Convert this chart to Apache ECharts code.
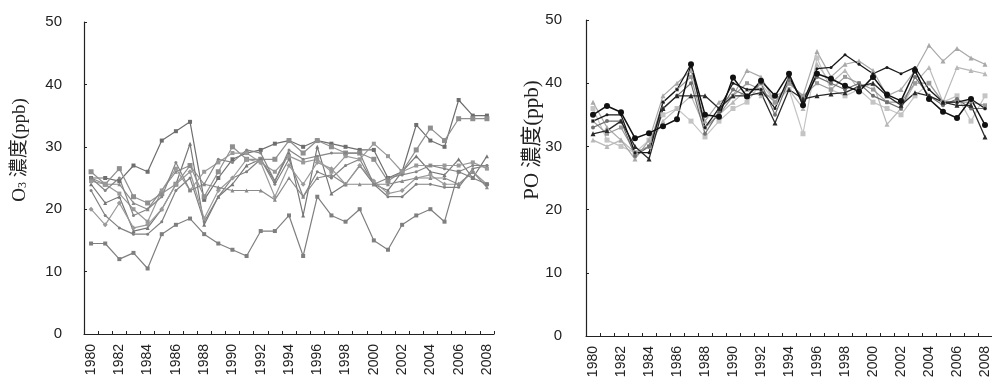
<!DOCTYPE html>
<html>
<head>
	<meta charset="utf-8" />
	<title>O3 / PO</title>
	<script src="https://cdn.jsdelivr.net/npm/echarts@6/dist/echarts.min.js"></script>
	<style>
		body { margin: 0; background: #fff; }
		#main { width: 992px; height: 386px; }
	</style>
</head>
<body>
	<div id="main"></div>
	<script type="text/javascript">
		// 年份
		var years = [];
		for (var y = 1980; y <= 2008; y++) years.push(String(y));

		// 左图 O3 濃度
		var o3A = [25, 25, 24.5, 27, 26, 31, 32.5, 34, 21.5, 25, 28, 29, 29.5, 30.5, 31, 30, 31, 30.5, 30, 29.5, 29.5, 25, 26, 33.5, 31, 30, 37.5, 35, 35];
		var o3B = [24, 21, 22, 16.5, 17, 20, 24, 30.5, 17.5, 22, 24, 27, 28, 24.5, 29, 19, 30, 22.5, 24, 27, 24, 23, 26, 28.5, 26, 25.5, 28, 25, 28.5];
		var o3C = [26, 24, 26.5, 22, 21, 22.5, 24, 27, 22, 26, 30, 28, 28, 28, 31, 29, 31, 30, 29, 29, 28, 24.5, 26, 29.5, 33, 31, 34.5, 34.5, 34.5];
		var o3D = [23, 19, 17, 16, 16, 18, 23, 25, 18, 22, 25, 26, 28, 24, 28, 22, 26, 25, 27, 28, 24, 22, 22, 24, 24, 23.5, 23.5, 26.5, 27];
		var o3E = [20, 17.5, 21, 17, 17.5, 20, 24, 26, 18.5, 23, 25, 28, 27.5, 22, 27, 24, 27.5, 26.5, 24, 27, 24.5, 22.5, 23, 25, 25.5, 24, 24, 26, 24];
		var o3F = [25, 24, 24, 21, 20, 23, 26, 27, 24, 23.5, 23, 23, 23, 21.5, 25, 22, 25, 25.5, 24, 24, 24, 24, 24.5, 25, 25, 25, 24, 26, 23.5];
		var o3G = [24.5, 24, 22.5, 20, 18, 23, 26.5, 23, 26, 27.5, 29, 29, 27.5, 26, 28.5, 27.5, 28, 26, 28.5, 28, 30.5, 28.5, 26, 27, 27, 27, 27, 27.5, 26.5];
		var o3H = [25, 23, 25, 19, 20, 22, 27.5, 23, 24, 28, 27.5, 29.5, 29, 24.5, 29.5, 28, 28.5, 29, 29, 29, 24, 25, 25.5, 26, 27, 26.5, 26, 27, 27];
		var o3Low = [14.5, 14.5, 12, 13, 10.5, 16, 17.5, 18.5, 16, 14.5, 13.5, 12.5, 16.5, 16.5, 19, 12.5, 22, 19, 18, 20, 15, 13.5, 17.5, 19, 20, 18, 26, 25, 24];

		// 右图 PO 濃度
		var poA = [35, 36.4, 35.4, 31.3, 32.1, 33.2, 34.3, 43, 35, 34.7, 40.9, 37.9, 40.4, 38, 41.5, 36.5, 41.5, 40.7, 39.6, 38.7, 41, 38.2, 37.2, 42, 37.5, 35.5, 34.5, 37.5, 33.4];
		var poB = [34, 35, 35, 29, 29, 37, 39, 43, 33, 36, 40, 39, 39, 36, 41, 37, 42.3, 42.5, 44.5, 43, 41.5, 42.5, 41.5, 42.5, 39, 37, 37, 37.5, 36];
		var poC = [32, 32.5, 34, 30, 28, 36, 38, 38, 38, 36, 38, 38, 38.5, 33.7, 39, 37.5, 38, 38.3, 38.5, 39.5, 40, 38, 36.5, 38.5, 38, 37, 36.5, 36.5, 31.5];
		var poD = [33, 34, 34, 28.5, 30, 36, 38, 40, 32, 35.5, 39, 38, 40, 35, 40.5, 37.5, 41, 40, 39, 40, 38, 37, 36, 41, 38, 36.5, 37.5, 36, 36];
		var poE = [37, 33, 31, 28, 31, 38, 40, 42, 34, 37, 38, 42, 41, 37, 40, 38, 45, 41, 43, 43.5, 42, 38, 39, 42, 46, 43.5, 45.5, 44, 43];
		var poF = [31, 30, 31, 29, 30, 34, 36, 38, 33, 35, 37, 39, 38, 38, 39, 36, 43, 40, 42, 39, 40, 33.5, 36, 40, 42.5, 37, 42.5, 42, 41.5];
		var poG = [36, 31, 30, 29, 31, 35, 36, 34, 31.5, 34, 36, 37, 40, 37, 39, 32, 44, 39, 38, 39, 37, 36, 35, 38, 40, 37, 38, 34, 38];
		var poH = [34, 32, 33, 29, 30, 37, 39, 41, 33, 35, 38, 40, 39, 37, 40, 38, 40, 39, 41, 40, 39, 37, 37, 40, 40, 37, 37, 37, 36.5];

		var yTicks = [0, 10, 20, 30, 40, 50];

		var labelFont = '"Liberation Sans", Arial, sans-serif';
		var nameFont = '"Liberation Serif", "Noto Sans CJK TC", serif';

		function xAxisOf(idx) {
			return {
				type: 'category',
				gridIndex: idx,
				data: years,
				boundaryGap: true,
				axisLine: { lineStyle: { color: '#222', width: 1.2 } },
				axisTick: { show: true, inside: true, length: 3, interval: 0, lineStyle: { color: '#222' } },
				axisLabel: {
					interval: 1, rotate: 90, margin: 10,
					color: '#222', fontSize: 14, fontFamily: labelFont
				},
				splitLine: { show: false }
			};
		}

		function yAxisOf(idx, margin) {
			return {
				type: 'value',
				gridIndex: idx,
				min: yTicks[0], max: yTicks[yTicks.length - 1], interval: 10,
				axisLine: { show: true, lineStyle: { color: '#222', width: 1.2 } },
				axisTick: { show: true, inside: true, length: 3, lineStyle: { color: '#222' } },
				axisLabel: { margin: margin, color: '#222', fontSize: 15, fontFamily: labelFont },
				splitLine: { show: false }
			};
		}

		function line(data, idx, color, symbol, size, width) {
			return {
				type: 'line',
				xAxisIndex: idx, yAxisIndex: idx,
				data: data,
				symbol: symbol,
				symbolSize: size,
				showAllSymbol: true,
				lineStyle: { color: color, width: width },
				itemStyle: { color: color, borderWidth: 0 },
				emphasis: { disabled: true },
				silent: true,
				animation: false
			};
		}

		var myChart = echarts.init(document.getElementById('main'));

		option = {
			backgroundColor: '#fff',
			animation: false,
			grid: [
				{ left: 84, top: 22, width: 410, height: 312 },
				{ left: 586, top: 20, width: 406, height: 316 }
			],
			xAxis: [xAxisOf(0), xAxisOf(1)],
			yAxis: [yAxisOf(0, 22), yAxisOf(1, 24)],
			graphic: [
				{
					type: 'text', x: 20, y: 150, rotation: Math.PI / 2,
					style: {
						text: 'O{s|3} 濃度(ppb)',
						align: 'center', verticalAlign: 'middle',
						fill: '#222', font: '19px ' + nameFont,
						rich: { s: { fontSize: 12, fontFamily: nameFont, fill: '#222', padding: [6, 0, 0, 0] } }
					}
				},
				{
					type: 'text', x: 532, y: 140, rotation: Math.PI / 2,
					style: {
						text: 'PO 濃度(ppb)',
						align: 'center', verticalAlign: 'middle',
						fill: '#222', font: '21px ' + nameFont
					}
				}
			],
			series: [
				line(o3A, 0, '#6e6e6e', 'rect', 4, 1.2),
				line(o3B, 0, '#777777', 'triangle', 4, 1.2),
				line(o3C, 0, '#8f8f8f', 'rect', 5, 1.2),
				line(o3D, 0, '#808080', 'circle', 3, 1.2),
				line(o3E, 0, '#9a9a9a', 'diamond', 5, 1.2),
				line(o3F, 0, '#8a8a8a', 'triangle', 4, 1.2),
				line(o3G, 0, '#999999', 'rect', 4, 1.2),
				line(o3H, 0, '#858585', 'circle', 3, 1.2),
				line(o3Low, 0, '#7f7f7f', 'rect', 4, 1.2),

				line(poG, 1, '#c4c4c4', 'rect', 5, 1.2),
				line(poF, 1, '#b8b8b8', 'triangle', 5, 1.2),
				line(poE, 1, '#a8a8a8', 'triangle', 5, 1.2),
				line(poH, 1, '#9a9a9a', 'rect', 4, 1.2),
				line(poD, 1, '#707070', 'circle', 4, 1.2),
				line(poC, 1, '#2a2a2a', 'triangle', 5, 1.3),
				line(poB, 1, '#1a1a1a', 'circle', 3, 1.3),
				line(poA, 1, '#111111', 'circle', 6, 1.5)
			]
		};

		myChart.setOption(option);
	</script>
</body>
</html>
